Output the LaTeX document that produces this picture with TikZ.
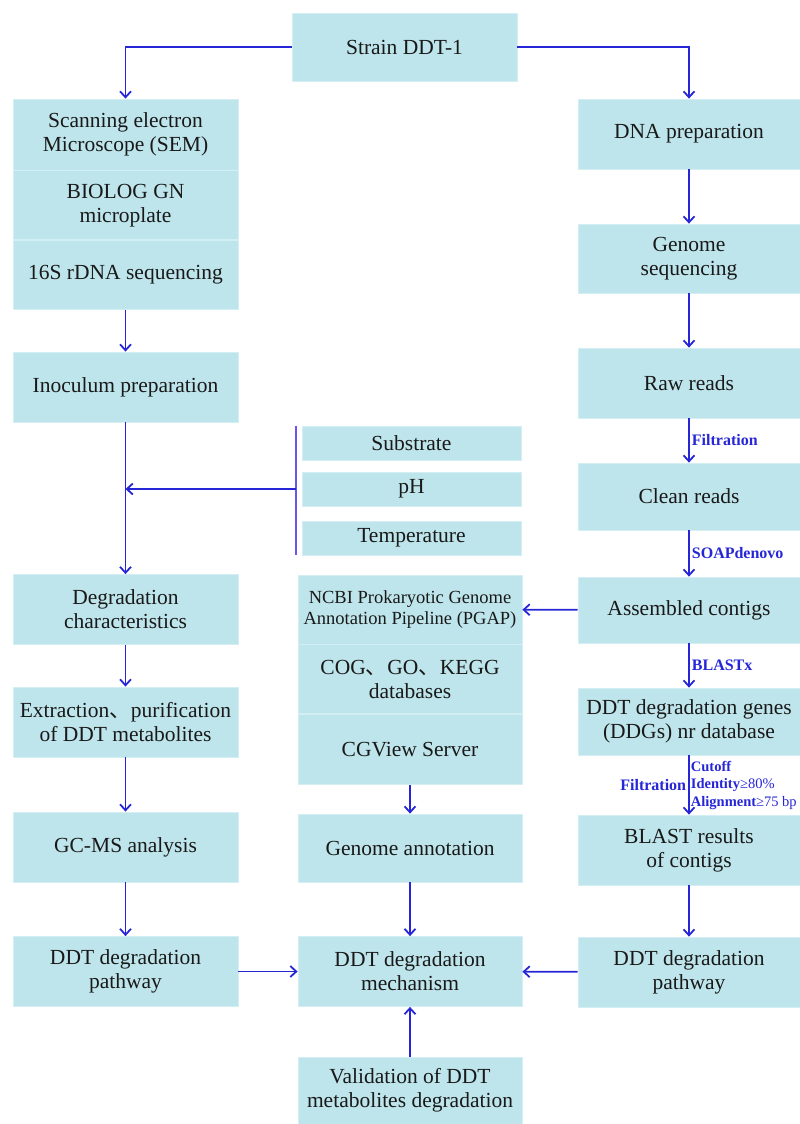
\documentclass[tikz,border=0pt]{standalone}
\usepackage{fontspec}
\setmainfont{Liberation Serif}
\newfontfamily\cjk{Noto Sans CJK SC}
\usetikzlibrary{%
  positioning,%
  arrows.meta%
}
\definecolor{boxfill}{RGB}{190,229,235}
\definecolor{boxedge}{RGB}{212,239,243}
\definecolor{flowblue}{RGB}{38,38,215}
\definecolor{barblue}{RGB}{105,85,232}
\newcommand{\dun}{{\cjk 、}}

\begin{document}
\begin{tikzpicture}[x=1pt,y=-1pt,
  box/.style={fill=boxfill,draw=boxedge,line width=.8pt,align=center,inner sep=2pt,
    minimum width=225pt,minimum height=70pt,text=black!90,
    font=\fontsize{21.5}{24}\selectfont},
  flow/.style={-{Straight Barb[length=6pt,width=11pt]},draw=flowblue,line width=1.8pt},
  lbl/.style={text=flowblue,font=\bfseries\fontsize{16}{18}\selectfont,inner sep=2pt}]
\useasboundingbox (0,0) rectangle (800,1124);

\node[box] (strain) at (404.5,47) [minimum height=68pt] {Strain DDT-1};

% left column
\node[box,minimum height=71pt] (sem) at (125.5,134.5) {Scanning electron\\Microscope (SEM)};
\node[box,below=0pt of sem,minimum height=69pt] (biolog) {BIOLOG GN\\microplate};
\node[box,below=0pt of biolog,minimum height=69pt] (rdna) {16S rDNA sequencing};
\node[box] (inoc) at (125.5,387) {Inoculum preparation};
\node[box] (degchar) at (125.5,609.5) {Degradation\\characteristics};
\node[box] (extract) at (125.5,722) {Extraction\dun purification\\of DDT metabolites};
\node[box] (gcms) at (125.5,847) {GC-MS analysis};
\node[box] (pathL) at (125.5,971.5) {DDT degradation\\pathway};

% middle column
\node[box,minimum width=219pt,minimum height=34pt] (substrate) at (411.5,443) {Substrate};
\node[box,minimum width=219pt,minimum height=34pt] (ph) at (411.5,489) {pH};
\node[box,minimum width=219pt,minimum height=34pt] (temp) at (411.5,538) {Temperature};
\node[box,minimum width=224pt,minimum height=69pt,font=\fontsize{18.5}{21}\selectfont] (ncbi) at (410,609.5)
  {NCBI Prokaryotic Genome\\Annotation Pipeline (PGAP)};
\node[box,below=0pt of ncbi,minimum width=224pt,minimum height=69pt] (cog) {COG\dun GO\dun KEGG\\databases};
\node[box,below=0pt of cog,minimum width=224pt] (cgview) {CGView Server};
\node[box,minimum width=224pt,minimum height=68pt] (annot) at (410,848) {Genome annotation};
\node[box,minimum width=224pt] (mech) at (410,971.5) {DDT degradation\\mechanism};
\node[box,minimum width=224pt,minimum height=67pt] (valid) at (410,1090.5) {Validation of DDT\\metabolites degradation};

% right column
\node[box,minimum width=222pt] (dna) at (689,134) {DNA preparation};
\node[box,minimum width=222pt,minimum height=69pt] (genseq) at (689,258.5) {Genome\\sequencing};
\node[box,minimum width=222pt] (raw) at (689,383) {Raw reads};
\node[box,minimum width=222pt,minimum height=67pt] (clean) at (689,496.5) {Clean reads};
\node[box,minimum width=222pt,minimum height=66pt] (contigs) at (689,610) {Assembled contigs};
\node[box,minimum width=222pt,minimum height=67pt] (ddg) at (689,721.5) {DDT degradation genes\\(DDGs) nr database};
\node[box,minimum width=222pt] (blast) at (689,850) {BLAST results\\of contigs};
\node[box,minimum width=222pt] (pathR) at (689,972) {DDT degradation\\pathway};

\draw[flow] (strain.west) -| (sem.north);
\draw[flow] (strain.east) -| (dna.north);

\draw[flow] (rdna) -- (inoc);
\draw[flow] (inoc) -- (degchar);
\draw[flow] (degchar) -- (extract);
\draw[flow] (extract) -- (gcms);
\draw[flow] (gcms) -- (pathL);

\draw[flow] (dna) -- (genseq);
\draw[flow] (genseq) -- (raw);
\draw[flow] (raw) -- node[lbl,right] {Filtration} (clean);
\draw[flow] (clean) -- node[lbl,right] {SOAPdenovo} (contigs);
\draw[flow] (contigs) -- node[lbl,right] {BLASTx} (ddg);
\draw[flow] (ddg) -- node[lbl,left,font=\bfseries\fontsize{16}{18}\selectfont] {Filtration}
  node[lbl,right,align=left,inner sep=1pt,font=\fontsize{14.5}{17.5}\selectfont]
  {\textbf{Cutoff}\\\textbf{Identity}≥80\%\\\textbf{Alignment}≥75 bp} (blast);
\draw[flow] (blast) -- (pathR);

\draw[flow] (contigs) -- (ncbi);
\draw[flow] (cgview) -- (annot);
\draw[flow] (annot) -- (mech);
\draw[flow] (valid) -- (mech);
\draw[flow] (pathL) -- (mech);
\draw[flow] (pathR) -- (mech);

% conditions bar
\coordinate (bartop) at ([xshift=-6pt]substrate.north west);
\coordinate (barbot) at ([xshift=-6pt]temp.south west);
\coordinate (bar) at ([xshift=-6pt]ph.west);
\coordinate (join) at (inoc.south |- ph.west);
\draw[barblue,line width=1.8pt] (bartop) -- (barbot);
\draw[flow] (bar) -- (join);
\end{tikzpicture}
\end{document}
